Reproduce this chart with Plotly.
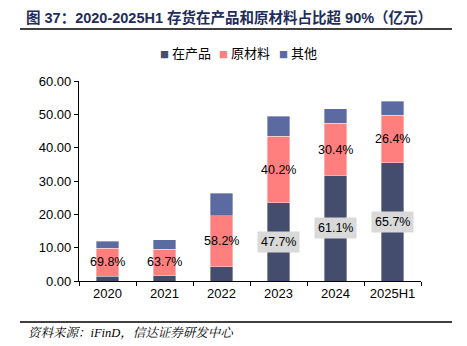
import plotly.graph_objects as go

categories = ["2020", "2021", "2022", "2023", "2024", "2025H1"]
wip = [1.5, 1.6, 4.3, 23.5, 31.6, 35.5]          # 在产品
raw = [8.3, 7.95, 15.3, 19.9, 15.7, 14.3]        # 原材料
other = [2.2, 2.9, 6.7, 6.0, 4.4, 4.2]           # 其他
raw_pct = ["69.8%", "63.7%", "58.2%", "40.2%", "30.4%", "26.4%"]
wip_pct = [None, None, None, "47.7%", "61.1%", "65.7%"]
yticks = [0, 10, 20, 30, 40, 50, 60]
series_names = ["在产品", "原材料", "其他"]

C_WIP = "#444D6E"
C_RAW = "#FF7F7F"
C_OTH = "#5B6AA0"
colors = [C_WIP, C_RAW, C_OTH]
FONT = "Liberation Sans, Arial, Noto Sans CJK SC, sans-serif"
CJK = "Noto Sans CJK SC, Liberation Sans, sans-serif"
MIX = "Liberation Sans, Noto Sans CJK SC, sans-serif"
SRC = "Liberation Serif, Noto Serif CJK SC, Noto Sans CJK SC, serif"

fig = go.Figure()
for name, vals, col in zip(series_names, [wip, raw, other], colors):
    fig.add_trace(go.Bar(
        x=categories, y=vals, name=name, marker_color=col,
        marker_line=dict(width=0.6, color="rgba(255,255,255,0.6)"),
        hoverinfo="skip", showlegend=False,
    ))

# percentage labels (category axis: annotation x is the category index)
for i, c in enumerate(categories):
    fig.add_annotation(x=i, y=wip[i] + raw[i] / 2, text=raw_pct[i], showarrow=False,
                       font=dict(family=FONT, size=12.5, color="#000000"))
    if wip_pct[i]:
        fig.add_annotation(x=i, y=wip[i] / 2, text=wip_pct[i], showarrow=False,
                           font=dict(family=FONT, size=12.5, color="#000000"),
                           bgcolor="#D9D9D9", borderpad=3)

# legend (compact, drawn as text)
leg_x = [158, 217, 277]
for name, col, px in zip(series_names, colors, leg_x):
    fig.add_annotation(xref="paper", yref="paper", x=(px - 79) / 342, y=(281 - 52) / 200.3,
                       xanchor="left", yanchor="middle", showarrow=False,
                       text=f"<span style='color:{col};font-size:9px'>■</span> {name}",
                       font=dict(family=CJK, size=13, color="#000000"))

# title, separators and source
fig.add_annotation(xref="paper", yref="paper", x=(24 - 79) / 342, y=(281 - 17) / 200.3,
                   xanchor="left", yanchor="middle", showarrow=False,
                   text="<b>图 37：2020-2025H1 存货在产品和原材料占比超 90%（亿元）</b>",
                   font=dict(family=MIX, size=14.5, color="#1F2D5A"))
fig.add_shape(type="line", xref="paper", yref="paper",
              x0=(20 - 79) / 342, x1=(452 - 79) / 342,
              y0=(281 - 28.5) / 200.3, y1=(281 - 28.5) / 200.3,
              line=dict(color="#000000", width=1.5))
fig.add_shape(type="line", xref="paper", yref="paper",
              x0=(20 - 79) / 342, x1=(452 - 79) / 342,
              y0=(281 - 322) / 200.3, y1=(281 - 322) / 200.3,
              line=dict(color="#000000", width=1.5))
fig.add_annotation(xref="paper", yref="paper", x=(26 - 79) / 342, y=(281 - 333) / 200.3,
                   xanchor="left", yanchor="middle", showarrow=False,
                   text="<i>资料来源：iFinD，信达证券研发中心</i>",
                   font=dict(family=SRC, size=12.5, color="#000000"))

fig.update_layout(
    width=467, height=346,
    margin=dict(l=79, r=46, t=81, b=65),
    barmode="stack", bargap=0.6,
    plot_bgcolor="white", paper_bgcolor="white",
    font=dict(family=FONT, size=13, color="#000000"),
    showlegend=False,
    xaxis=dict(type="category", range=[-0.5, len(categories) - 0.5],
               showline=True, linecolor="#000000", linewidth=1.2,
               ticks="outside", tickson="boundaries", ticklen=4, tickcolor="#000000",
               showgrid=False, tickfont=dict(family=FONT, size=13)),
    yaxis=dict(range=[0, 60], tickvals=yticks, tickformat=".2f",
               showline=True, linecolor="#000000", linewidth=1.2,
               ticks="outside", ticklen=4, tickcolor="#000000",
               showgrid=False, zeroline=False, tickfont=dict(family=FONT, size=13)),
)

fig.write_html("out.html")
